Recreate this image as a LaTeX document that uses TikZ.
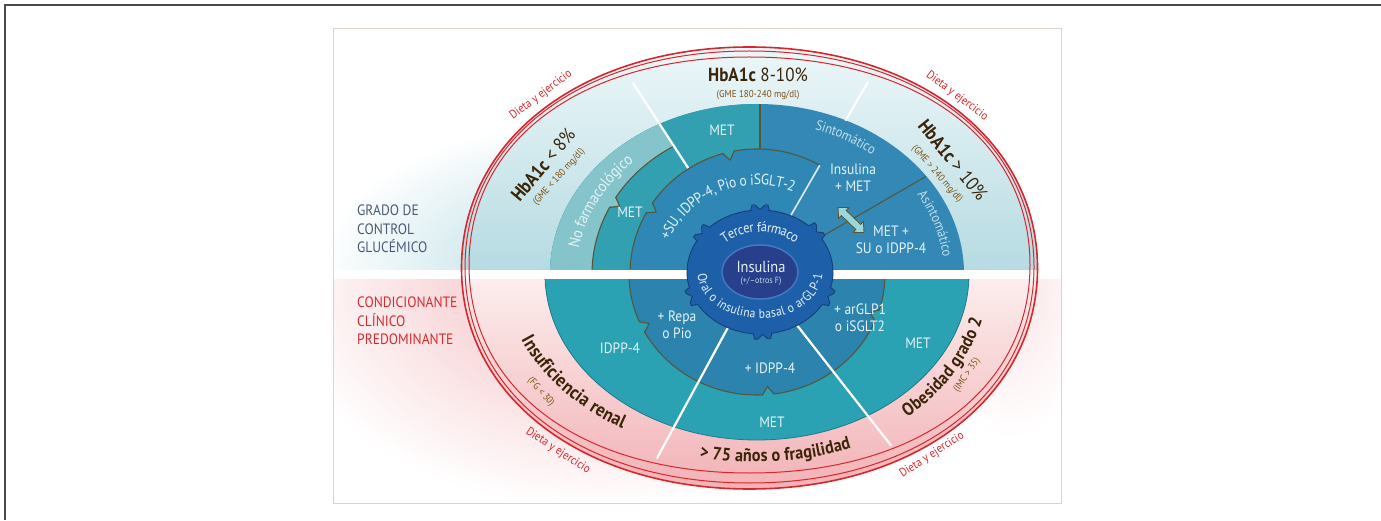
\documentclass[tikz,border=0pt]{standalone}
\usepackage{fontspec}
\setmainfont{PT Sans}[FakeStretch=0.9]
\usetikzlibrary{calc,decorations.text}

\definecolor{framegray}{HTML}{4A4A4A}
\definecolor{framebeige}{HTML}{DDD4C4}
\definecolor{bandblue}{HTML}{B3DAE2}
\definecolor{bandpink}{HTML}{F4BABE}
\definecolor{skyhi}{HTML}{EDF7F9}
\definecolor{skylo}{HTML}{B6DBE2}
\definecolor{rosehi}{HTML}{F2B2B6}
\definecolor{roselo}{HTML}{FCEDED}
\definecolor{nofarm}{HTML}{86C4CB}
\definecolor{metteal}{HTML}{33A0B2}
\definecolor{subl}{HTML}{2E87B4}
\definecolor{sinto}{HTML}{3488B5}
\definecolor{gearbl}{HTML}{1E5FA9}
\definecolor{gearrimc}{HTML}{163F78}
\definecolor{corebl}{HTML}{283F8C}
\definecolor{corerimc}{HTML}{4677C2}
\definecolor{lowteal}{HTML}{2BA2B3}
\definecolor{lowbl}{HTML}{2C84AE}
\definecolor{seamc}{HTML}{55573A}
\definecolor{redline}{HTML}{D9262C}
\definecolor{labelink}{HTML}{E6F3F6}
\definecolor{softink}{HTML}{C3DDEA}
\definecolor{hbdark}{HTML}{3A2509}
\definecolor{gmebrown}{HTML}{7C5216}
\definecolor{slate}{HTML}{4C5878}
\definecolor{labred}{HTML}{D52B2E}
\definecolor{arrowcyan}{HTML}{9ED6DD}

% rounded-square loop: centre x, centre y, x radius, y radius, handle factor
\newcommand\redloop[5]{%
  ({#1+#3},{#2}) .. controls ({#1+#3},{#2+#5*#4}) and ({#1+#5*#3},{#2+#4}) .. ({#1},{#2+#4})
  .. controls ({#1-#5*#3},{#2+#4}) and ({#1-#3},{#2+#5*#4}) .. ({#1-#3},{#2})
  .. controls ({#1-#3},{#2-#5*#4}) and ({#1-#5*#3},{#2-#4}) .. ({#1},{#2-#4})
  .. controls ({#1+#5*#3},{#2-#4}) and ({#1+#3},{#2-#5*#4}) .. ({#1+#3},{#2}) -- cycle}

\tikzset{
  seamline/.style={draw=seamc, line width=1.1pt},
  gearrim/.style={draw=gearrimc, line width=0.9pt},
  ringlbl/.style={text=labelink, inner sep=0pt, align=center, font=\fontsize{15}{17}\selectfont},
  hbtxt/.style={text=hbdark, inner sep=0pt, font=\fontsize{19}{19}\selectfont},
  gmetxt/.style={text=gmebrown, inner sep=0pt, font=\fontsize{10}{10}\selectfont},
  diettxt/.style={text=redline, inner sep=0pt, font=\fontsize{12}{12}\selectfont},
  sidetxt/.style={inner sep=0pt, align=left, anchor=north west, font=\fontsize{15}{18.5}\selectfont},
  rnotch/.pic={
    \fill[#1] (1.5,-6) -- (-8,0) -- (1.5,6) -- cycle;
    \draw[seamline] (0,-6) -- (-8,0) -- (0,6);
  },
  gtab/.pic={
    \fill[gearbl] (-4,-10) -- (5,-8) -- (5,8) -- (-4,10) -- cycle;
    \fill[#1] (6,-5.5) -- (0.5,0) -- (6,5.5) -- cycle;
    \draw[gearrim] (-1,-9.4) -- (5,-8) -- (5,-5) -- (0.5,0) -- (5,5) -- (5,8) -- (-1,9.4);
  },
}

\begin{document}
\begin{tikzpicture}[x=1pt,y=1pt]
\useasboundingbox (0,0) rectangle (1381,520);
\fill[white] (0,0) rectangle (1381,520);
\draw[framegray, line width=1.8pt] (5,0) -- (5,515) -- (1381,515);

\coordinate (C) at (757,246);
\coordinate (G) at (760,248);

% soft coloured backgrounds (radial blends into the white page)
\begin{scope}
  \clip (334,17) rectangle (1061,491);
  \begin{scope}
    \clip (334,250) rectangle (1061,491);
    \shade[inner color=bandblue, outer color=white] (590,250) ellipse [x radius=270, y radius=150];
  \end{scope}
  \begin{scope}
    \clip (334,17) rectangle (1061,241);
    \shade[inner color=bandpink, outer color=white] (600,241) ellipse [x radius=330, y radius=230];
    \shade[inner color=bandpink!40!white, outer color=white] (1010,241) ellipse [x radius=90, y radius=160];
  \end{scope}
  \begin{scope}
    \clip \redloop{749.5}{252}{288}{221}{0.58};
    \shade[top color=skyhi, bottom color=skylo] (334,250) rectangle (1061,475);
    \shade[top color=roselo, bottom color=rosehi] (334,31) rectangle (1061,241);
  \end{scope}
\end{scope}
\draw[framebeige, line width=1pt] (333.5,16.5) rectangle (1061.5,491.5);

% upper half: glycaemic control sectors
\begin{scope}
  \clip (334,250) rectangle (1061,491);
  \fill[sinto] (C) ellipse [x radius=207, y radius=170];
  \begin{scope}
    \clip (760,246) rectangle (300,500);
    \fill[metteal] (C) ellipse [x radius=207, y radius=170];
  \end{scope}
  \begin{scope}
    \clip (C) -- +(123:600) -- +(150:700) -- +(180:600) -- cycle;
    \fill[nofarm] (C) ellipse [x radius=207, y radius=170];
    \fill[metteal] (C) ellipse [x radius=165, y radius=148];
    \draw[seamline] (C) ellipse [x radius=165, y radius=148];
  \end{scope}
  \draw[seamline] (760,246) -- (760,416);
  \draw[seamline] (C) -- +(30:195);
  \draw[white, line width=2.2pt] (C) -- +(123:228);
  \draw[white, line width=2pt] ($(C)+(60:177)$) -- ($(C)+(60:222)$);
  \begin{scope}
    \clip (C) -- +(60:700) -- +(120:700) -- +(180:700) -- cycle;
    \fill[subl] (C) ellipse [x radius=127, y radius=125];
    \draw[seamline] (C) ellipse [x radius=127, y radius=125];
  \end{scope}
  \draw[white!85!subl, line width=1.6pt] (C) -- +(60:125.5);
  \pic[rotate=151] at ($(C)+(151:165 and 148)$) {rnotch=nofarm};
  \pic[rotate=148] at ($(C)+(148:127 and 125)$) {rnotch=metteal};
  \pic[rotate=103] at ($(C)+(103:127 and 125)$) {rnotch=metteal};
\end{scope}

% lower half: clinical condition sectors
\begin{scope}
  \clip (334,17) rectangle (1061,241);
  \fill[lowteal] (C) ellipse [x radius=212, y radius=166];
  \draw[lowteal!75!black, line width=0.8pt] (C) ellipse [x radius=212, y radius=166];
  \fill[lowbl] (C) ellipse [x radius=128, y radius=121];
  \draw[seamline] (C) ellipse [x radius=128, y radius=121];
  \pic[rotate=206] at ($(C)+(206:128 and 121)$) {rnotch=lowteal};
  \pic[rotate=275] at ($(C)+(275:128 and 121)$) {rnotch=lowteal};
  \pic[rotate=340] at ($(C)+(340:128 and 121)$) {rnotch=lowteal};
  \draw[white, line width=2.2pt] (C) -- +(241.5:210);
  \draw[white, line width=2.2pt] (C) -- +(308:218);
\end{scope}

% separating band
\fill[white] (334,241) rectangle (1061,250);

% diet and exercise loop
\draw[redline, line width=1.6pt] \redloop{749.5}{252}{288}{221}{0.58};
\draw[redline, line width=1pt] \redloop{749.5}{253}{284.5}{216}{0.59};
\draw[redline, line width=1pt] \redloop{749.5}{255}{280.5}{208}{0.60};

% gear and core
\fill[gearbl] (G) ellipse [x radius=73, y radius=62];
\draw[gearrim] (G) ellipse [x radius=73, y radius=62];
\pic[rotate=40] at ($(G)+(40:73 and 62)$) {gtab=sinto};
\pic[rotate=90] at ($(G)+(90:73 and 62)$) {gtab=subl};
\pic[rotate=142] at ($(G)+(142:73 and 62)$) {gtab=subl};
\pic[rotate=203] at ($(G)+(203:73 and 62)$) {gtab=lowbl};
\pic[rotate=272] at ($(G)+(272:73 and 62)$) {gtab=lowbl};
\pic[rotate=337] at ($(G)+(337:73 and 62)$) {gtab=lowbl};
\fill[corebl] (G) ellipse [x radius=38, y radius=27];
\draw[corerimc, line width=1.5pt] (G) ellipse [x radius=38, y radius=27];

% two-way switch between symptomatic and asymptomatic
\draw[fill=arrowcyan, draw=seamc, line width=0.8pt, shift={(851,300)}, rotate=-44]
  (-18,0) -- (-10,7.5) -- (-10,3.5) -- (10,3.5) -- (10,7.5) -- (18,0)
  -- (10,-7.5) -- (10,-3.5) -- (-10,-3.5) -- (-10,-7.5) -- cycle;

% curved labels
\path[decorate, decoration={text along path, text align=center, raise=-5.5pt,
  text={|\color{labelink}\fontsize{16}{16}\selectfont|No farmacológico}}]
  ($(C)+(178:186 and 159)$) arc[start angle=178, end angle=126, x radius=186, y radius=159];
\path[decorate, decoration={text along path, text align=center, raise=-5pt,
  text={|\color{labelink}\fontsize{15}{15}\selectfont|+SU, IDPP-4, Pio o iSGLT-2}}]
  ($(C)+(172:100 and 94)$) arc[start angle=172, end angle=54, x radius=100, y radius=94];
\path[decorate, decoration={text along path, text align=center, raise=-5pt,
  text={|\color{softink}\fontsize{14}{14}\selectfont|Sintomático}}]
  ($(C)+(88:190 and 157)$) arc[start angle=88, end angle=34, x radius=190, y radius=157];
\path[decorate, decoration={text along path, text align=center, raise=-5pt,
  text={|\color{softink}\fontsize{14}{14}\selectfont|Asintomático}}]
  ($(C)+(48:192 and 158)$) arc[start angle=48, end angle=-12, x radius=192, y radius=158];
\path[decorate, decoration={text along path, text align=center, raise=-5pt,
  text={|\color{labelink}\fontsize{14}{14}\selectfont|Tercer fármaco}}]
  ($(G)+(170:56 and 45)$) arc[start angle=170, end angle=10, x radius=56, y radius=45];
\path[decorate, decoration={text along path, text align=center, raise=-4.5pt,
  text={|\color{labelink}\fontsize{13}{13}\selectfont|Oral o insulina basal o arGLP-1}}]
  ($(G)+(172:58 and 42)$) arc[start angle=172, end angle=368, x radius=58, y radius=42];
\path[decorate, decoration={text along path, text align=center, raise=-6.5pt,
  text={|\bfseries\color{hbdark}\fontsize{19}{19}\selectfont|Insuficiencia renal}}]
  ($(C)+(186:246 and 176)$) arc[start angle=186, end angle=249, x radius=246, y radius=176];
\path[decorate, decoration={text along path, text align=center, raise=-6pt,
  text={|\bfseries\color{hbdark}\fontsize{18}{18}\selectfont|> 75 años o fragilidad}}]
  ($(C)+(248:246 and 182)$) arc[start angle=248, end angle=301, x radius=246, y radius=182];
\path[decorate, decoration={text along path, text align=center, raise=-6pt,
  text={|\bfseries\color{hbdark}\fontsize{18}{18}\selectfont|Obesidad grado 2}}]
  ($(C)+(-58:226 and 182)$) arc[start angle=-58, end angle=-4, x radius=226, y radius=182];

% ring labels
\node[ringlbl] (metNF) at (630,308) {MET};
\node[ringlbl] (metTop) at (722,390) {MET};
\node[ringlbl] (insMet) at (853,342) {Insulina\\+ MET};
\node[ringlbl] (metSu) at (891,280) {MET +\\SU o IDPP-4};
\node[ringlbl] (idppL) at (620,172) {IDPP-4};
\node[ringlbl] (repa) at (677,195) {+ Repa\\o Pio};
\node[ringlbl] (idppB) at (770,152) {+ IDPP-4};
\node[ringlbl] (metB) at (772,98) {MET};
\node[ringlbl] (arglp) at (860,202) {+ arGLP1\\o iSGLT2};
\node[ringlbl] (metR) at (918,177) {MET};
\node[text=labelink, inner sep=0pt, font=\fontsize{16}{16}\selectfont] (coreA) at (761,253) {Insulina};
\node[text=softink, inner sep=0pt, font=\fontsize{9}{9}\selectfont] (coreB) at (761,239) {(+/–otros F)};

% HbA1c targets
\node[hbtxt, rotate=50] (hbLow) at (543,355) {\textbf{HbA1c} < 8\%};
\node[gmetxt, rotate=48] (gmeLow) at (559,343) {(GME < 180 mg/dl)};
\node[hbtxt] (hbMid) at (758,445) {\textbf{HbA1c} 8-10\%};
\node[gmetxt] (gmeMid) at (758,425) {(GME 180-240 mg/dl)};
\node[hbtxt, rotate=-51] (hbHigh) at (953,360) {\textbf{HbA1c} > 10\%};
\node[gmetxt, rotate=-49] (gmeHigh) at (937,346) {(GME > 240 mg/dl)};
\node[gmetxt, rotate=-48] (fg) at (541,128) {(FG < 30)};
\node[gmetxt, rotate=56] (imc) at (967,145) {(IMC > 35)};

% diet and exercise captions
\node[diettxt, rotate=37] (dietTL) at (541,425) {Dieta y ejercicio};
\node[diettxt, rotate=-37] (dietTR) at (957,424) {Dieta y ejercicio};
\node[diettxt, rotate=-33] (dietBL) at (558,69) {Dieta y ejercicio};
\node[diettxt, rotate=33] (dietBR) at (932,65) {Dieta y ejercicio};

% side headings
\node[sidetxt, text=slate] (grado) at (357,315) {GRADO DE\\CONTROL\\GLUCÉMICO};
\node[sidetxt, text=labred] (cond) at (357,223) {CONDICIONANTE\\CLÍNICO\\PREDOMINANTE};
\end{tikzpicture}
\end{document}
